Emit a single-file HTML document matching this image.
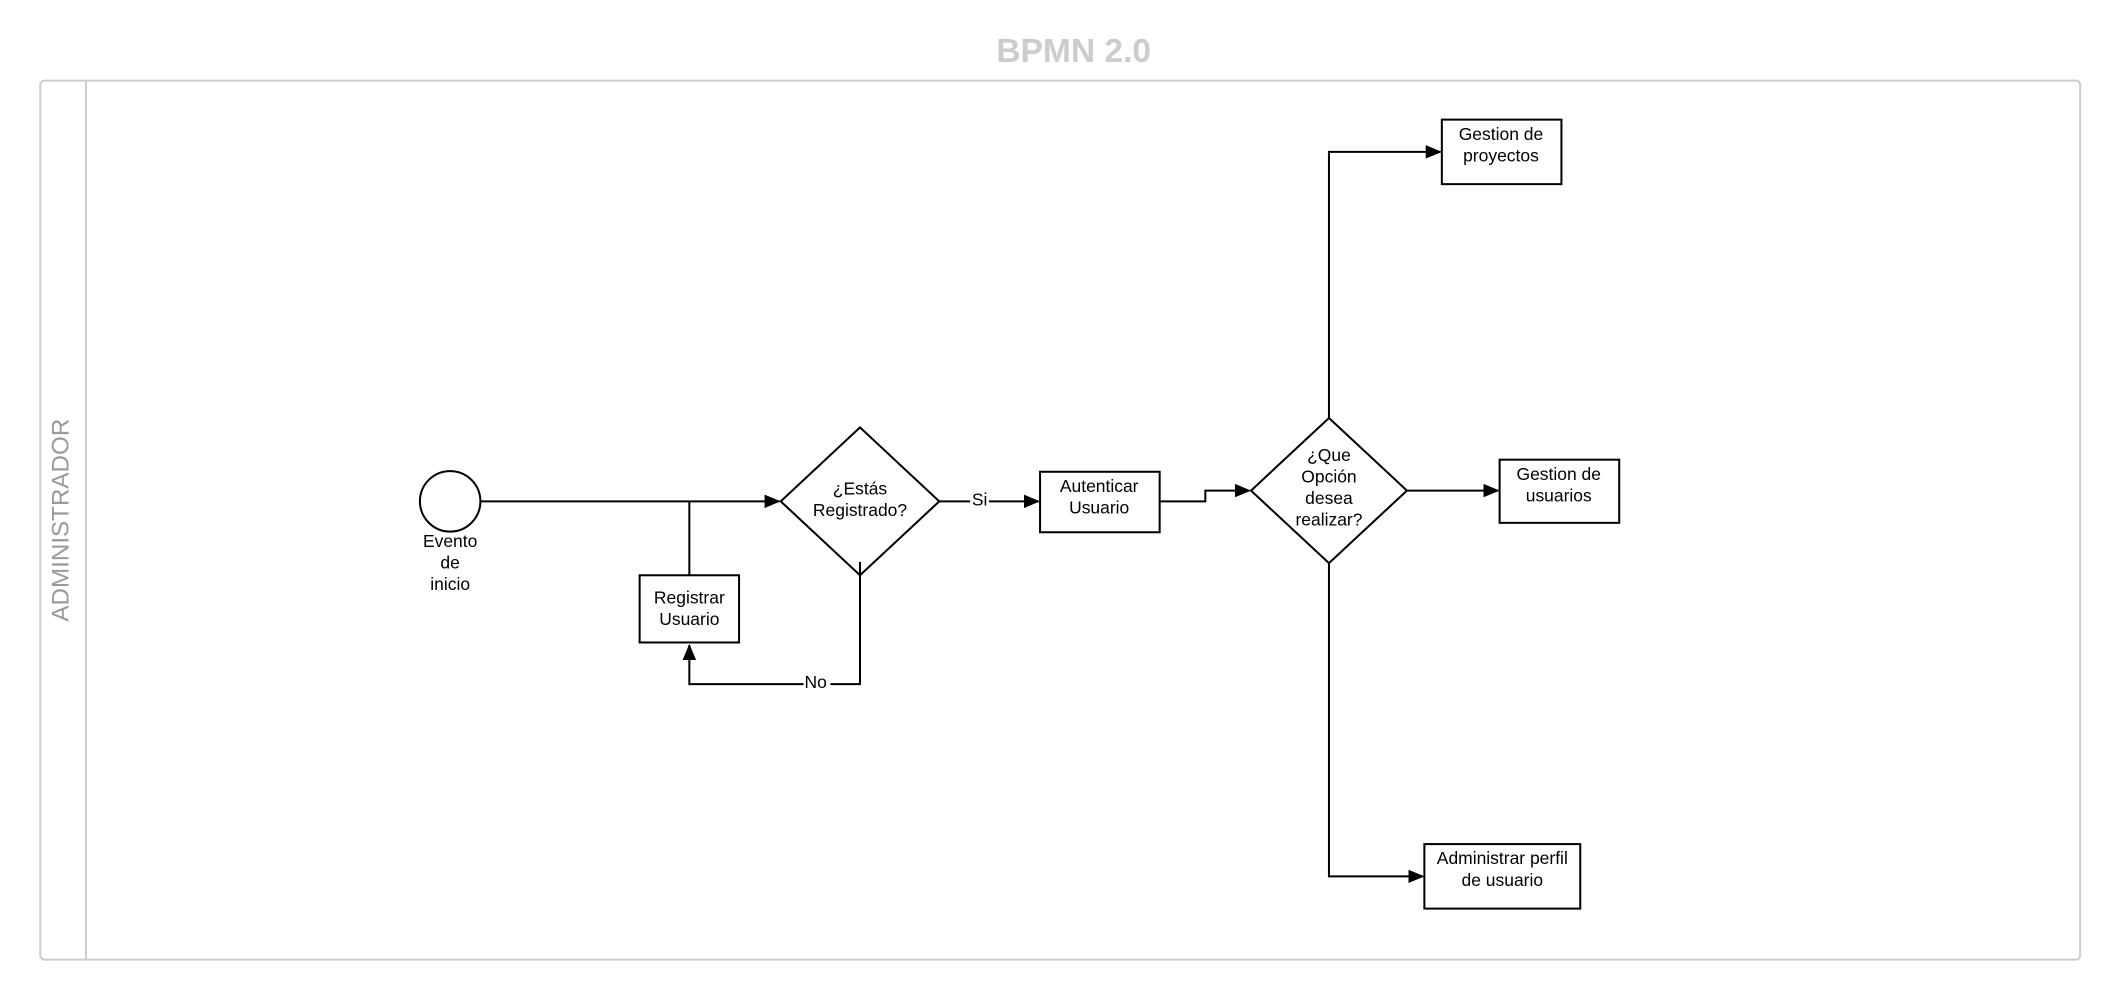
<!DOCTYPE html>
<html><head><meta charset="utf-8"><style>
html,body{margin:0;padding:0;background:#fff;width:2107px;height:1000px;overflow:hidden}
svg{display:block}
text{font-family:"Liberation Sans",Arial,sans-serif}
</style></head><body>
<svg width="2107" height="1000" viewBox="0 0 1568 744" preserveAspectRatio="none" xmlns="http://www.w3.org/2000/svg">
<defs>
<marker id="a" markerWidth="12" markerHeight="10" refX="11" refY="5" orient="auto" markerUnits="userSpaceOnUse">
<path d="M0,0 L12,5 L0,10 Z" fill="#000"/></marker>
</defs>
<text x="799" y="46" text-anchor="middle" font-size="25" font-weight="bold" fill="#cccccc">BPMN 2.0</text>
<rect x="30" y="60" width="1518" height="654" rx="3" fill="none" stroke="#cccccc" stroke-width="1.5"/>
<line x1="64" y1="60" x2="64" y2="714" stroke="#cccccc" stroke-width="1.5"/>
<text transform="translate(51,387) rotate(-90)" text-anchor="middle" font-size="18" fill="#999999">ADMINISTRADOR</text>

<g fill="none" stroke="#000" stroke-width="1.5">
<circle cx="335" cy="373" r="22.5"/>
<line x1="357" y1="373" x2="580" y2="373" marker-end="url(#a)"/>
<line x1="513" y1="373" x2="513" y2="428"/>
<rect x="476" y="428" width="74" height="50"/>
<polygon points="581,373 640,318 699,373 640,428"/>
<polyline points="640,418 640,509 513,509 513,480" marker-end="url(#a)"/>
<line x1="699" y1="373" x2="773" y2="373" marker-end="url(#a)"/>
<rect x="774" y="351" width="89" height="45"/>
<polyline points="863,373 897,373 897,365 930,365" marker-end="url(#a)"/>
<polygon points="931,365 989,311 1047,365 989,419"/>
<polyline points="989,311 989,113 1072,113" marker-end="url(#a)"/>
<rect x="1073" y="89" width="89" height="48"/>
<line x1="1047" y1="365" x2="1115" y2="365" marker-end="url(#a)"/>
<rect x="1116" y="342" width="89" height="47"/>
<polyline points="989,419 989,652 1059,652" marker-end="url(#a)"/>
<rect x="1060" y="628" width="116" height="48"/>
</g>
<rect x="722" y="364" width="14" height="14" fill="#fff"/>
<rect x="598" y="500" width="20" height="14" fill="#fff"/>
<g font-size="13" fill="#000" text-anchor="middle">
<text x="335" y="407">Evento</text><text x="335" y="423">de</text><text x="335" y="439">inicio</text>
<text x="513" y="449">Registrar</text><text x="513" y="465">Usuario</text>
<text x="640" y="368">¿Estás</text><text x="640" y="384">Registrado?</text>
<text x="729" y="376">Si</text>
<text x="607" y="512">No</text>
<text x="818" y="366">Autenticar</text><text x="818" y="382">Usuario</text>
<text x="989" y="343">¿Que</text><text x="989" y="359">Opción</text><text x="989" y="375">desea</text><text x="989" y="391">realizar?</text>
<text x="1117" y="104">Gestion de</text><text x="1117" y="120">proyectos</text>
<text x="1160" y="357">Gestion de</text><text x="1160" y="373">usuarios</text>
<text x="1118" y="643">Administrar perfil</text><text x="1118" y="659">de usuario</text>
</g>
</svg>
</body></html>
